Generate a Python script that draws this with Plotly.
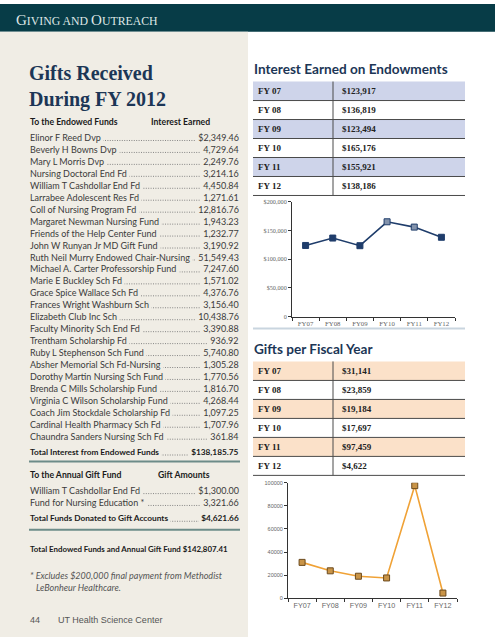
import plotly.graph_objects as go

# ---------------- data ----------------
endowed_funds = [
    "Elinor F Reed Dvp", "Beverly H Bowns Dvp", "Mary L Morris Dvp",
    "Nursing Doctoral End Fd", "William T Cashdollar End Fd",
    "Larrabee Adolescent Res Fd", "Coll of Nursing Program Fd",
    "Margaret Newman Nursing Fund", "Friends of the Help Center Fund",
    "John W Runyan Jr MD Gift Fund", "Ruth Neil Murry Endowed Chair-Nursing",
    "Michael A. Carter Professorship Fund", "Marie E Buckley Sch Fd",
    "Grace Spice Wallace Sch Fd", "Frances Wright Washburn Sch",
    "Elizabeth Club Inc Sch", "Faculty Minority Sch End Fd",
    "Trentham Scholarship Fd", "Ruby L Stephenson Sch Fund",
    "Absher Memorial Sch Fd-Nursing", "Dorothy Martin Nursing Sch Fund",
    "Brenda C Mills Scholarship Fund", "Virginia C Wilson Scholarship Fund",
    "Coach Jim Stockdale Scholarship Fd", "Cardinal Health Pharmacy Sch Fd",
    "Chaundra Sanders Nursing Sch Fd",
]
endowed_interest = [
    2349.46, 4729.64, 2249.76, 3214.16, 4450.84, 1271.61, 12816.76, 1943.23,
    1232.77, 3190.92, 51549.43, 7247.60, 1571.02, 4376.76, 3156.40, 10438.76,
    3390.88, 936.92, 5740.80, 1305.28, 1770.56, 1816.70, 4268.44, 1097.25,
    1707.96, 361.84,
]
total_endowed = 138185.75
annual_funds = ["William T Cashdollar End Fd", "Fund for Nursing Education *"]
annual_amounts = [1300.00, 3321.66]
total_annual = 4621.66
total_all = 142807.41

years = ["FY07", "FY08", "FY09", "FY10", "FY11", "FY12"]
year_labels = ["FY 07", "FY 08", "FY 09", "FY 10", "FY 11", "FY 12"]
interest_earned = [123917, 136819, 123494, 165176, 155921, 138186]
gifts_per_year = [31141, 23859, 19184, 17697, 97459, 4622]

y1_tickvals = [0, 50000, 100000, 150000, 200000]
y1_ticktext = ["0", "$50,000", "$100,000", "$150,000", "$200,000"]
y2_tickvals = [0, 20000, 40000, 60000, 80000, 100000]
y2_ticktext = ["0", "20000", "40000", "60000", "80000", "100000"]

# ---------------- helpers ----------------
W, H = 495, 640
BEIGE = "#f0ede5"
NAVY = "#1c3656"
SANS = "Lato, 'Open Sans', sans-serif"
SERIF = "'Liberation Serif', 'DejaVu Serif', serif"
ASANS = "'Liberation Sans', Arial, sans-serif"


def px(x):
    return x / W


def py(y):
    return 1 - y / H


shapes = []
annotations = []


def rect(x0, y0, x1, y1, color, layer="below"):
    shapes.append(dict(type="rect", xref="paper", yref="paper",
                       x0=px(x0), x1=px(x1), y0=py(y0), y1=py(y1),
                       fillcolor=color, line=dict(width=0), layer=layer))


def hline(x0, x1, y, color, width=1, dash="solid"):
    shapes.append(dict(type="line", xref="paper", yref="paper",
                       x0=px(x0), x1=px(x1), y0=py(y), y1=py(y),
                       line=dict(color=color, width=width, dash=dash)))


def vline(x, y0, y1, color, width=1):
    shapes.append(dict(type="line", xref="paper", yref="paper",
                       x0=px(x), x1=px(x), y0=py(y0), y1=py(y1),
                       line=dict(color=color, width=width)))


def text(x, y, t, size=8.5, color="#3b3b3b", family=SANS, anchor="left",
         bg=None):
    a = dict(xref="paper", yref="paper", x=px(x), y=py(y), text=t,
             showarrow=False, xanchor=anchor, yanchor="middle",
             font=dict(size=size, color=color, family=family), borderpad=0)
    if bg:
        a["bgcolor"] = bg
    annotations.append(a)


def fmt(v, dollar=False):
    s = f"{v:,.2f}"
    return ("$" + s) if dollar else s


# ---------------- page background ----------------
rect(0, 0, W, 28, "#073c47")
rect(0, 28, 248, H, BEIGE)
text(15, 16, "<span style='font-size:15px'>G</span>IVING AND "
     "<span style='font-size:15px'>O</span>UTREACH",
     size=11.8, color="#dfe7e6", family=SERIF)

# ---------------- left column ----------------
LX, RX = 29, 240
FS = 9        # regular list text
FB = 8.3      # bold list text
FH = 8.7      # bold column headings
text(LX - 1, 70, "<b>Gifts Received</b>", size=20, color=NAVY, family=SERIF)
text(LX - 1, 97, "<b>During FY 2012</b>", size=20, color=NAVY, family=SERIF)

text(LX, 119, "<b>To the Endowed Funds</b>", size=FH, color="#1a1a1a")
text(150, 119, "<b>Interest Earned</b>", size=FH, color="#1a1a1a")


def leader_row(y, label, value, bold=False, color="#3b3b3b"):
    hline(LX + 4, RX - 3, y + 3, "#7a7a7a", width=0.9, dash="1px,1.4px")
    lab = f"<b>{label}</b>" if bold else label
    val = f"<b>{value}</b>" if bold else value
    size = FB if bold else FS
    text(LX, y, lab + "\u00a0", size=size, color=color, bg=BEIGE)
    text(RX, y, "\u00a0" + val, size=size, color=color, anchor="right", bg=BEIGE)


y0, pitch = 135, 12.08
for i, (name, v) in enumerate(zip(endowed_funds, endowed_interest)):
    leader_row(y0 + pitch * i, name, fmt(v, dollar=(i == 0)))

leader_row(453, "Total Interest from Endowed Funds", fmt(total_endowed, True),
           bold=True, color="#1a1a1a")
hline(LX, RX, 462.5, "#6d8c89", width=2)

text(LX, 476, "<b>To the Annual Gift Fund</b>", size=FH, color="#1a1a1a")
text(157, 476, "<b>Gift Amounts</b>", size=FH, color="#1a1a1a")
for i, (name, v) in enumerate(zip(annual_funds, annual_amounts)):
    leader_row(492 + 12 * i, name, fmt(v, dollar=(i == 0)))
leader_row(520, "Total Funds Donated to Gift Accounts", fmt(total_annual, True),
           bold=True, color="#1a1a1a")
hline(LX, RX, 531.5, "#6d8c89", width=2)

text(LX, 551, f"<b>Total Endowed Funds and Annual Gift Fund {fmt(total_all, True)}</b>",
     size=7.9, color="#1a1a1a")
text(LX, 578, "<i>* Excludes $200,000 final payment from Methodist</i>",
     size=FS, color="#555555")
text(LX + 6, 590, "<i>LeBonheur Healthcare.</i>", size=FS, color="#555555")

text(LX, 623, "44", size=9, color="#555555", family=ASANS)
text(57, 623, "UT Health Science Center", size=9, color="#555555", family=ASANS)

# ---------------- right column tables ----------------
TX0, TX1, TDIV = 253, 465, 333
ROWH = 19.2


def table(title, title_y, first_y, values, shade):
    text(TX0, title_y, f"<b>{title}</b>", size=13.6, color=NAVY, family=SANS)
    top = first_y - ROWH / 2
    for i, (lab, v) in enumerate(zip(year_labels, values)):
        yc = first_y + ROWH * i
        if i % 2 == 0:
            rect(TX0, yc - ROWH / 2, TX1, yc + ROWH / 2, shade)
        hline(TX0, TX1, yc + ROWH / 2, "#4a4a4a", width=1)
        text(TX0 + 4, yc, f"<b>{lab}</b>", size=9, color="#222222", family=SERIF)
        text(TDIV + 8, yc, f"<b>${v:,}</b>", size=9, color="#222222", family=SERIF)
    vline(TDIV, top, first_y + ROWH * 5.5, "#4a4a4a", width=1)


table("Interest Earned on Endowments", 66, 88, interest_earned, "#ced4ea")
hline(TX0, TX1, 328, "#c9d5df", width=2)
table("Gifts per Fiscal Year", 349, 371, gifts_per_year, "#fbe1c9")

# ---------------- charts ----------------
fig = go.Figure()
fig.add_trace(go.Scatter(
    x=years, y=interest_earned, xaxis="x", yaxis="y", mode="lines+markers",
    line=dict(color="#1f3d6b", width=1.6),
    marker=dict(symbol="square", size=6,
                color=["#1f3d6b", "#1f3d6b", "#1f3d6b", "#8393ac", "#8393ac", "#1f3d6b"],
                line=dict(color="#1f3d6b", width=1)),
    hoverinfo="x+y", showlegend=False))
fig.add_trace(go.Scatter(
    x=years, y=gifts_per_year, xaxis="x2", yaxis="y2", mode="lines+markers",
    line=dict(color="#f0a236", width=1.6),
    marker=dict(symbol="square", size=6, color="#c99447",
                line=dict(color="#6b4a1e", width=1)),
    hoverinfo="x+y", showlegend=False))

axis_common = dict(showgrid=False, zeroline=False, showline=True,
                   linecolor="#333333", linewidth=1, ticks="outside",
                   ticklen=3, tickcolor="#333333", fixedrange=True)

fig.update_layout(
    width=W, height=H, autosize=False,
    margin=dict(l=0, r=0, t=0, b=0),
    paper_bgcolor="white", plot_bgcolor="rgba(0,0,0,0)",
    shapes=shapes, annotations=annotations, showlegend=False,
    xaxis=dict(domain=[px(292), px(455)], anchor="y", type="category",
               range=[-0.5, 5.5], tickson="boundaries",
               tickfont=dict(size=6.8, color="#666666", family=SERIF),
               **axis_common),
    yaxis=dict(domain=[py(316), py(200)], anchor="x", range=[0, 200000],
               tickvals=y1_tickvals, ticktext=y1_ticktext,
               tickfont=dict(size=6.2, color="#666666", family=SERIF),
               **axis_common),
    xaxis2=dict(domain=[px(288), px(457)], anchor="y2", type="category",
                range=[-0.5, 5.5], tickson="boundaries",
                tickfont=dict(size=7.2, color="#666666", family=ASANS),
                **axis_common),
    yaxis2=dict(domain=[py(601), py(484)], anchor="x2", range=[0, 100000],
                tickvals=y2_tickvals, ticktext=y2_ticktext,
                tickfont=dict(size=5.5, color="#666666", family=ASANS),
                **axis_common),
)

fig.write_html("out.html",
               config={"displayModeBar": False},
               post_script="document.body.style.margin='0px';"
                           "document.body.style.padding='0px';")
